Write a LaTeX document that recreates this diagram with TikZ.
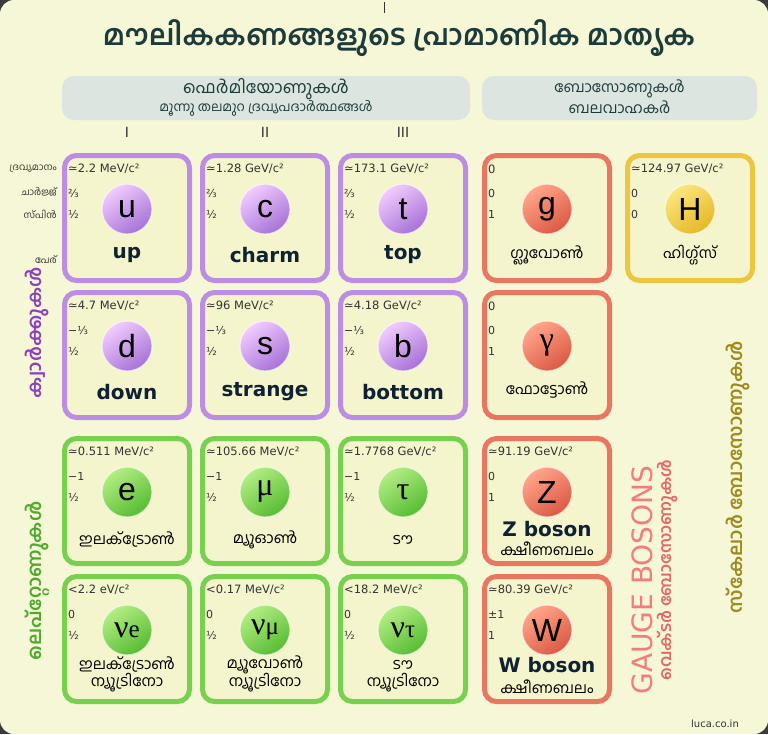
\documentclass[tikz,border=0pt]{standalone}
\usepackage{fontspec}
\setmainfont{DejaVu Sans}
\newfontfamily\ml[Script=Malayalam]{Hind Kochi}
\newfontfamily\dv{DejaVu Sans}
\newfontfamily\ls{Liberation Sans}
\newfontfamily\lser{Liberation Serif}
\definecolor{bgcol}{HTML}{F5F7D6}
\definecolor{cornercol}{HTML}{3A3A3A}
\definecolor{cellfill}{HTML}{F4F4CD}
\definecolor{hdrcol}{HTML}{DCE5DF}
\definecolor{titlecol}{HTML}{1D3B3A}
\definecolor{qborder}{HTML}{BD8DE3}
\definecolor{qlight}{HTML}{F2CCFF}
\definecolor{qdark}{HTML}{A672D6}
\definecolor{lborder}{HTML}{78D14E}
\definecolor{llight}{HTML}{B4EE84}
\definecolor{ldark}{HTML}{56BC32}
\definecolor{gborder}{HTML}{E97660}
\definecolor{glight}{HTML}{FFA78A}
\definecolor{gdark}{HTML}{DC5843}
\definecolor{hborder}{HTML}{EDC641}
\definecolor{hlight}{HTML}{FBE77E}
\definecolor{hdark}{HTML}{E6B726}
\definecolor{namecol}{HTML}{0F2233}
\definecolor{masscol}{HTML}{333333}
\definecolor{quarkcol}{HTML}{8D3FBD}
\definecolor{leptoncol}{HTML}{4FAA2C}
\definecolor{gaugecol}{HTML}{F37C7C}
\definecolor{vectorcol}{HTML}{E56666}
\definecolor{scalarcol}{HTML}{9E8B1E}
\tikzset{
  cellbox/.style={draw=#1, line width=5pt, rounded corners=12pt, fill=cellfill,
    minimum width=125pt, minimum height=125pt, inner sep=0pt},
  masst/.style={anchor=west, inner sep=0pt, text=masscol, font=\dv\fontsize{11.5}{13}\selectfont},
  smallt/.style={anchor=west, inner sep=0pt, text=masscol, font=\dv\fontsize{11}{13}\selectfont},
  pcirc/.style={circle, minimum size=50pt, inner sep=0pt, top color=#1light, bottom color=#1dark,
    shading angle=35, draw=white, draw opacity=0.6, line width=1.2pt, text=black,
    font=\ls\fontsize{32}{34}\selectfont},
  namet/.style={inner sep=0pt, text=namecol, align=center, font=\dv\bfseries\fontsize{20}{22}\selectfont},
  mlname/.style={inner sep=0pt, text=black, align=center, font=\ml\fontsize{15}{17}\selectfont},
  sidelab/.style={anchor=east, inner sep=0pt, text=masscol, font=\ml\fontsize{9.5}{11}\selectfont},
  hdrbox/.style={fill=hdrcol, rounded corners=12pt, inner sep=0pt},
  roman/.style={inner sep=0pt, text=masscol, font=\dv\fontsize{14}{16}\selectfont},
  grouplab/.style={rotate=90, inner sep=0pt, font=\ml\bfseries\fontsize{19}{21}\selectfont},
}
% #1 name, #2 left x, #3 top y, #4 family letter, #5 mass, #6 charge, #7 spin, #8 symbol
\newcommand\pcell[8]{%
  \node[cellbox=#4border] (#1) at ({#2+65},{#3+65}) {};
  \node[masst] (#1-m) at ({#2+6},{#3+16}) {#5};
  \node[smallt] (#1-q) at ({#2+6},{#3+40}) {#6};
  \node[smallt] (#1-s) at ({#2+6},{#3+61}) {#7};
  \node[pcirc=#4] (#1-p) at ({#2+65},{#3+56}) {#8};
}
\begin{document}
\begin{tikzpicture}[x=1pt,y=-1pt]
\useasboundingbox (0,0) rectangle (768,734);
\fill[cornercol] (0,0) rectangle (768,734);
\fill[bgcol, rounded corners=14pt] (0,0) rectangle (768,734);
\draw[masscol, line width=1pt] (384,2) -- (384,13);
% title
\node[text=titlecol, inner sep=0pt, font=\ml\bfseries\fontsize{28.5}{32}\selectfont] (title) at (399,38) {മൗലികകണങ്ങളുടെ പ്രാമാണിക മാതൃക};
% headers
\node[hdrbox, minimum width=408pt, minimum height=44pt] (fhdr) at (266,98) {};
\node[hdrbox, minimum width=275pt, minimum height=44pt] (bhdr) at (619.5,98) {};
\node[inner sep=0pt, text=titlecol, font=\ml\fontsize{17}{19}\selectfont] (fh1) at (266,89) {ഫെർമിയോണുകൾ};
\node[inner sep=0pt, text=titlecol, font=\ml\fontsize{13}{15}\selectfont] (fh2) at (266,108) {മൂന്നു തലമുറ ദ്രവ്യപദാർത്ഥങ്ങൾ};
\node[inner sep=0pt, text=titlecol, font=\ml\fontsize{15}{17}\selectfont] (bh1) at (619.5,89) {ബോസോണുകൾ};
\node[inner sep=0pt, text=titlecol, font=\ml\fontsize{15}{17}\selectfont] (bh2) at (619.5,107) {ബലവാഹകർ};
% generations
\node[roman] (g1) at (127,132) {I};
\node[roman] (g2) at (265,132) {II};
\node[roman] (g3) at (403,132) {III};
% side labels
\node[sidelab] (lmass) at (57,169) {ദ്രവ്യമാനം};
\node[sidelab] (lcharge) at (57,192) {ചാർജ്ജ്};
\node[sidelab] (lspin) at (57,214) {സ്പിൻ};
\node[sidelab] (lname) at (57,260) {പേര്};
% row 1
\pcell{up}{62}{153}{q}{≃2.2 MeV/c²}{⅔}{½}{u}
\node[namet] (up-n) at (127,255) {up};
\pcell{charm}{200}{153}{q}{≃1.28 GeV/c²}{⅔}{½}{c}
\node[namet] (charm-n) at (265,255) {charm};
\pcell{top}{338}{153}{q}{≃173.1 GeV/c²}{⅔}{½}{t}
\node[namet] (top-n) at (403,255) {top};
\pcell{gluon}{482}{153}{g}{0}{0}{1}{g}
\node[mlname] (gluon-n) at (547,255) {ഗ്ലൂവോൺ};
\pcell{higgs}{625}{153}{h}{≃124.97 GeV/c²}{0}{0}{H}
\node[mlname] (higgs-n) at (690,255) {ഹിഗ്ഗ്സ്};
% row 2
\pcell{down}{62}{290}{q}{≃4.7 MeV/c²}{−⅓}{½}{d}
\node[namet] (down-n) at (127,392) {down};
\pcell{strange}{200}{290}{q}{≃96 MeV/c²}{−⅓}{½}{s}
\node[namet] (strange-n) at (265,392) {strange};
\pcell{bottom}{338}{290}{q}{≃4.18 GeV/c²}{−⅓}{½}{b}
\node[namet] (bottom-n) at (403,392) {bottom};
\pcell{photon}{482}{290}{g}{0}{0}{1}{\lser γ}
\node[mlname] (photon-n) at (547,390) {ഫോട്ടോൺ};
% row 3
\pcell{elec}{62}{436}{l}{≃0.511 MeV/c²}{−1}{½}{e}
\node[mlname] (elec-n) at (127,540) {ഇലക്ട്രോൺ};
\pcell{muon}{200}{436}{l}{≃105.66 MeV/c²}{−1}{½}{\lser μ}
\node[mlname] (muon-n) at (265,540) {മ്യൂഓൺ};
\pcell{tau}{338}{436}{l}{≃1.7768 GeV/c²}{−1}{½}{\lser τ}
\node[mlname] (tau-n) at (403,540) {ടൗ};
\pcell{zb}{482}{436}{g}{≃91.19 GeV/c²}{0}{1}{Z}
\node[namet] (zb-n) at (547,529) {Z boson};
\node[mlname] (zb-n2) at (547,549) {ക്ഷീണബലം};
% row 4
\pcell{nue}{62}{574}{l}{<2.2 eV/c²}{0}{½}{\lser ν\fontsize{25}{25}\selectfont e}
\node[mlname] (nue-n) at (127,665) {ഇലക്ട്രോൺ};
\node[mlname] (nue-n2) at (127,683) {ന്യൂട്രിനോ};
\pcell{numu}{200}{574}{l}{<0.17 MeV/c²}{0}{½}{\lser ν\fontsize{25}{25}\selectfont μ}
\node[mlname] (numu-n) at (265,665) {മ്യൂവോൺ};
\node[mlname] (numu-n2) at (265,683) {ന്യൂട്രിനോ};
\pcell{nutau}{338}{574}{l}{<18.2 MeV/c²}{0}{½}{\lser ν\fontsize{25}{25}\selectfont τ}
\node[mlname] (nutau-n) at (403,665) {ടൗ};
\node[mlname] (nutau-n2) at (403,683) {ന്യൂട്രിനോ};
\pcell{wb}{482}{574}{g}{≃80.39 GeV/c²}{±1}{1}{W}
\node[namet] (wb-n) at (547,665) {W boson};
\node[mlname] (wb-n2) at (547,687) {ക്ഷീണബലം};
% rotated group labels
\node[grouplab, text=quarkcol] (quarks) at (37,333) {ക്വാർക്കുകൾ};
\node[grouplab, text=leptoncol] (leptons) at (37,581) {ലെപ്റ്റോണുകൾ};
\node[rotate=90, inner sep=0pt, text=gaugecol, font=\dv\fontsize{28}{30}\selectfont] (gauge) at (642,580) {GAUGE BOSONS};
\node[rotate=90, inner sep=0pt, text=vectorcol, font=\ml\bfseries\fontsize{16.5}{18}\selectfont] (vector) at (668,570) {വെക്ടർ ബോസോണുകൾ};
\node[grouplab, text=scalarcol] (scalar) at (738,477) {സ്കേലാർ ബോസോണുകൾ};
\node[inner sep=0pt, text=masscol, font=\dv\fontsize{10}{12}\selectfont] (credit) at (715,724) {luca.co.in};
\end{tikzpicture}
\end{document}
